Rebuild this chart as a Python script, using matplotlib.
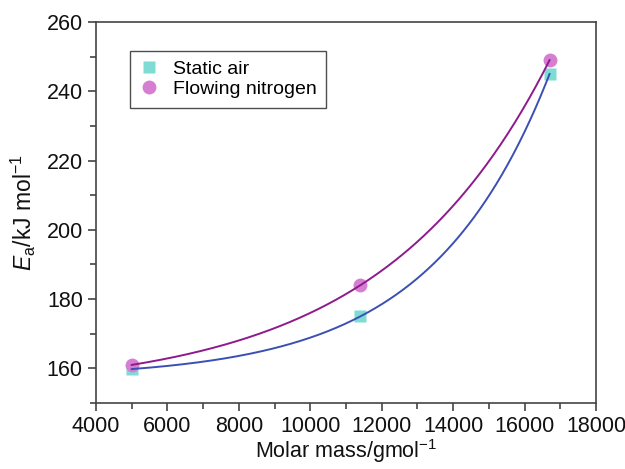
import numpy as np
import matplotlib
matplotlib.use("Agg")
import matplotlib.pyplot as plt
from matplotlib.ticker import MultipleLocator

plt.rcParams['font.family'] = ['Liberation Sans', 'DejaVu Sans']
plt.rcParams['mathtext.fontset'] = 'custom'
plt.rcParams['mathtext.rm'] = 'Liberation Sans'
plt.rcParams['mathtext.it'] = 'Liberation Sans:italic'

# data
molar_mass = [5000, 11400, 16700]
ea_static_air = [159.8, 175, 245]
ea_flowing_n2 = [161, 184, 249]


def exp_fit(x, y):
    # exact y = a + b*exp(c*x) through three points, c found by bisection
    x = np.asarray(x, float)
    y = np.asarray(y, float)
    r = (y[2] - y[1]) / (y[1] - y[0])

    def f(c):
        return (np.exp(c * x[2]) - np.exp(c * x[1])) / (np.exp(c * x[1]) - np.exp(c * x[0])) - r

    lo, hi = 1e-9, 1e-2
    for _ in range(200):
        mid = 0.5 * (lo + hi)
        if f(lo) * f(mid) <= 0:
            hi = mid
        else:
            lo = mid
    c = 0.5 * (lo + hi)
    b = (y[1] - y[0]) / (np.exp(c * x[1]) - np.exp(c * x[0]))
    a = y[0] - b * np.exp(c * x[0])
    xs = np.linspace(x[0], x[-1], 300)
    return xs, a + b * np.exp(c * xs)


fig = plt.figure(figsize=(6.25, 4.69), dpi=100)
ax = fig.add_axes([0.1536, 0.1407, 0.80, 0.8123])

ax.plot(molar_mass, ea_static_air, 's', color='#7fdcd4', ms=9, mec='none',
        label='Static air', zorder=2)
ax.plot(molar_mass, ea_flowing_n2, 'o', color='#d67fd2', ms=10, mec='none',
        label='Flowing nitrogen', zorder=2)

xs, ys = exp_fit(molar_mass, ea_static_air)
ax.plot(xs, ys, color='#3b4fb4', lw=1.4, zorder=3)
xs, ys = exp_fit(molar_mass, ea_flowing_n2)
ax.plot(xs, ys, color='#8e1a8c', lw=1.4, zorder=3)

ax.set_xlim(4000, 18000)
ax.set_ylim(150, 260)
ax.xaxis.set_major_locator(MultipleLocator(2000))
ax.xaxis.set_minor_locator(MultipleLocator(1000))
ax.yaxis.set_major_locator(MultipleLocator(20))
ax.yaxis.set_minor_locator(MultipleLocator(10))

for s in ax.spines.values():
    s.set_color('#444444')
    s.set_linewidth(1.2)
ax.tick_params(which='both', direction='out', colors='#444444', labelcolor='#111111',
               labelsize=15.5, width=1.2)
ax.tick_params(which='major', length=6)
ax.tick_params(which='minor', length=4)

ax.set_xlabel('Molar mass/gmol$^{\u22121}$', fontsize=15.5, color='#111111', labelpad=0)
ax.set_ylabel('$\\mathit{E}_{\\mathrm{a}}$/kJ mol$^{\u22121}$', fontsize=16.5, color='#111111',
              labelpad=6)

leg = ax.legend(loc='upper left', bbox_to_anchor=(0.068, 0.925), fontsize=14,
                frameon=True, fancybox=False, handlelength=1.0, handletextpad=0.7,
                borderpad=0.5, labelspacing=0.12, borderaxespad=0)
leg.get_frame().set_edgecolor('#222222')
leg.get_frame().set_linewidth(1.0)

fig.savefig('out.png', dpi=100)
